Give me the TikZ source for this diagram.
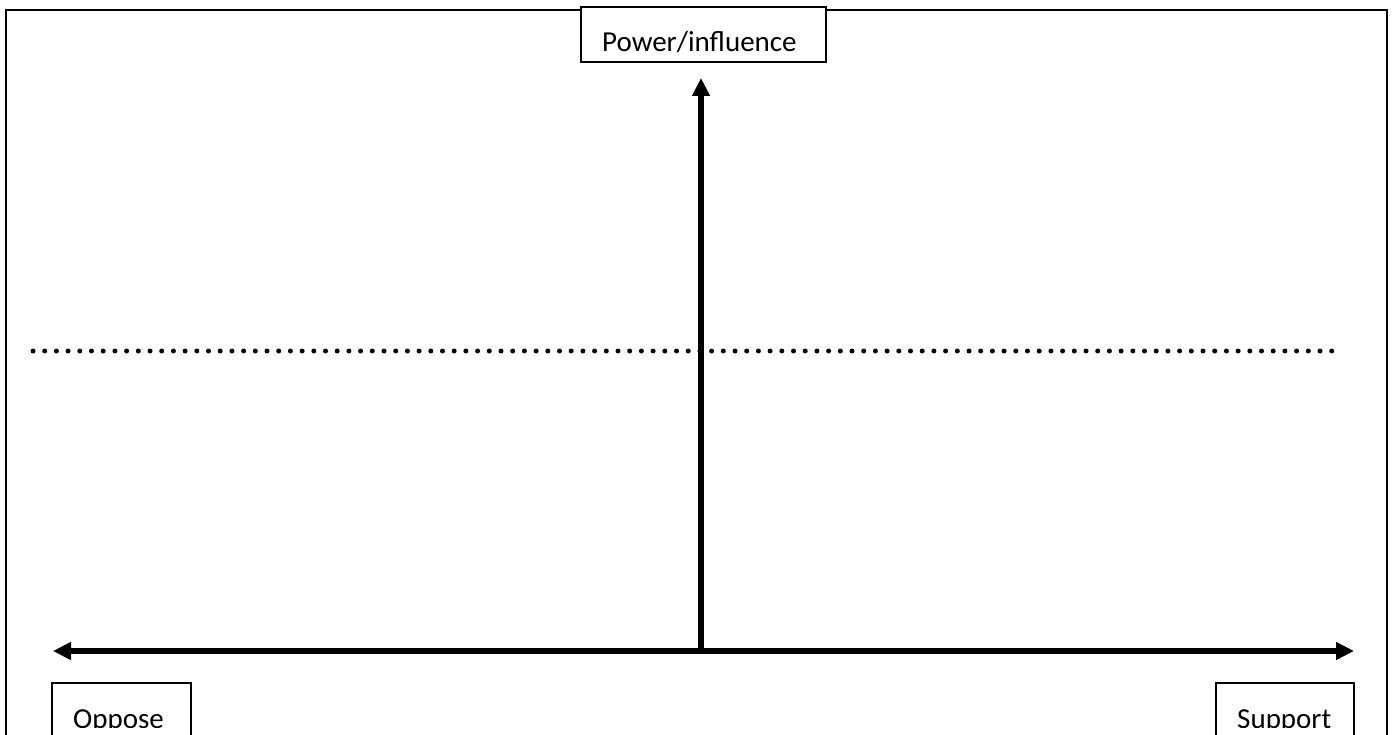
\documentclass[tikz,border=0pt]{standalone}
\usepackage{fontspec}
\setmainfont{Carlito}
\usetikzlibrary{arrows.meta}
\tikzset{
  frameline/.style={draw=black, line width=2pt},
  labelbox/.style={draw=black, line width=2pt, fill=white},
  labeltext/.style={inner sep=0pt, anchor=base west, font=\fontsize{29}{34}\selectfont},
  axis/.style={line width=6pt, -{Triangle[length=18pt,width=17pt]}},
  dualaxis/.style={line width=6pt, {Triangle[length=18pt,width=17pt]}-{Triangle[length=18pt,width=17pt]}},
  midline/.style={line width=5pt, line cap=round, dash pattern=on 0pt off 11.7pt}
}
\begin{document}
\begin{tikzpicture}[x=1pt, y=-1pt]
  \useasboundingbox (0,0) rectangle (1394,735);
  \clip (0,0) rectangle (1394,735);
  % outer frame, running off the lower edge
  \draw[frameline] (6,10) rectangle (1387,760);
  % reference points of the two axes
  \coordinate (left) at (53,651);
  \coordinate (right) at (1354,651);
  \coordinate (origin) at (701,651);
  \coordinate (top) at (701,78);
  \coordinate (dotsL) at (33,351);
  \coordinate (dotsR) at (1332,351);
  % dotted divider
  \draw[midline] (dotsL) -- (dotsR);
  % axes
  \draw[axis] (origin) -- (top);
  \draw[dualaxis] (left) -- (right);
  % label boxes
  \path[labelbox] (581,7) rectangle (826,62);
  \node[labeltext] (power) at (602,52) {Power/influence};
  \path[labelbox] (52,683) rectangle (191,760);
  \path[labelbox] (1216,683) rectangle (1354,760);
  \begin{scope}
    \clip (0,0) rectangle (1394,727);
    \node[labeltext] (oppose) at (73,728) {Oppose};
    \node[labeltext] (support) at (1237,728) {Support};
  \end{scope}
\end{tikzpicture}
\end{document}
